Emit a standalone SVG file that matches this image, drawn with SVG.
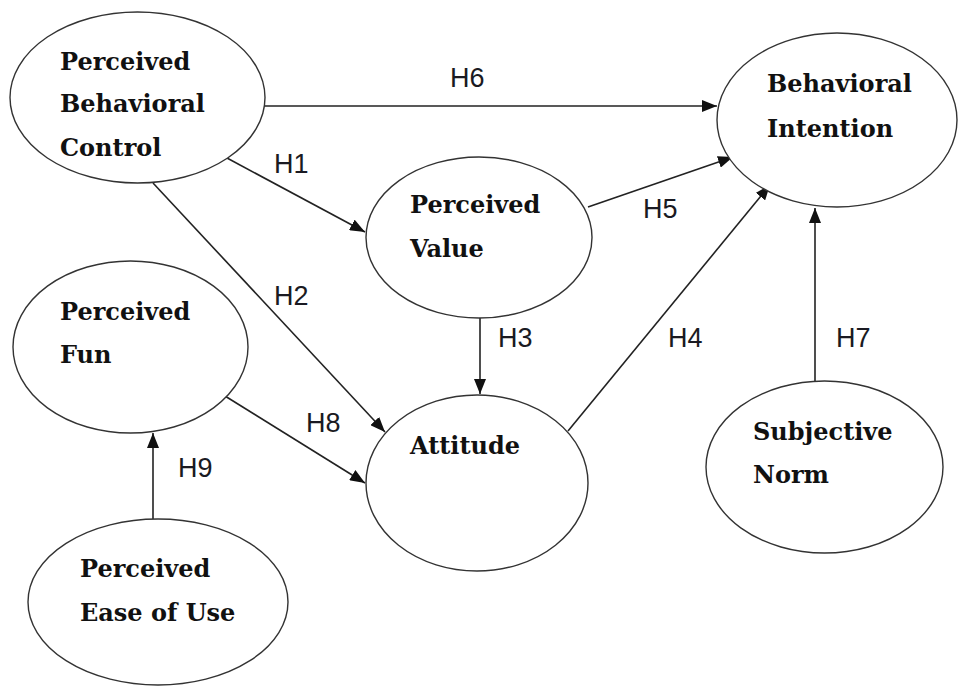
<svg xmlns="http://www.w3.org/2000/svg" width="960" height="687" viewBox="0 0 960 687">
<style>
.node ellipse{fill:#fff;stroke:#333;stroke-width:1.4}
.node text{font-family:"DejaVu Serif","Liberation Serif",serif;font-weight:bold;font-size:24px;fill:#111}
.edges line{stroke:#222;stroke-width:1.6;marker-end:url(#arr)}
.lbl{font-family:"Liberation Sans",Arial,sans-serif;font-size:27px;fill:#1a1a22}
</style>
<defs>
<marker id="arr" viewBox="0 0 15 12" refX="15" refY="6" markerWidth="15" markerHeight="12" markerUnits="userSpaceOnUse" orient="auto">
<path d="M0,0 L15,6 L0,12 z" fill="#111"/>
</marker>
</defs>
<rect width="960" height="687" fill="#fff"/>
<g class="edges">
<line x1="265" y1="106" x2="717" y2="106"/>
<line x1="227" y1="158" x2="365" y2="232"/>
<line x1="153" y1="183" x2="385" y2="432"/>
<line x1="480" y1="318" x2="480" y2="394"/>
<line x1="225" y1="396" x2="365" y2="483"/>
<line x1="568" y1="431" x2="770" y2="185"/>
<line x1="588" y1="207" x2="733" y2="157"/>
<line x1="815" y1="381" x2="815" y2="208"/>
<line x1="153" y1="519" x2="153" y2="433"/>
</g>
<g id="labels">
<text class="lbl" x="450" y="87">H6</text>
<text class="lbl" x="274" y="173">H1</text>
<text class="lbl" x="643" y="218">H5</text>
<text class="lbl" x="274" y="305">H2</text>
<text class="lbl" x="498" y="347">H3</text>
<text class="lbl" x="668" y="347">H4</text>
<text class="lbl" x="836" y="347">H7</text>
<text class="lbl" x="306" y="432">H8</text>
<text class="lbl" x="178" y="477">H9</text>
</g>
<g id="pbc" class="node">
<ellipse cx="137.5" cy="97.5" rx="127.5" ry="85.5"/>
<text x="60" y="70">Perceived</text>
<text x="60" y="112">Behavioral</text>
<text x="60" y="156">Control</text>
</g>
<g id="bi" class="node">
<ellipse cx="837" cy="120" rx="120" ry="87"/>
<text x="767" y="92">Behavioral</text>
<text x="767" y="137">Intention</text>
</g>
<g id="pv" class="node">
<ellipse cx="479" cy="237.5" rx="113" ry="80.5"/>
<text x="410" y="213">Perceived</text>
<text x="410" y="257">Value</text>
</g>
<g id="att" class="node">
<ellipse cx="477" cy="483" rx="111" ry="88"/>
<text x="410" y="454">Attitude</text>
</g>
<g id="pf" class="node">
<ellipse cx="130.5" cy="347" rx="117.5" ry="86"/>
<text x="60" y="320">Perceived</text>
<text x="60" y="363">Fun</text>
</g>
<g id="peu" class="node">
<ellipse cx="158" cy="602" rx="130" ry="83"/>
<text x="80" y="577">Perceived</text>
<text x="80" y="621">Ease of Use</text>
</g>
<g id="sn" class="node">
<ellipse cx="824.5" cy="467" rx="118.5" ry="86"/>
<text x="753" y="440">Subjective</text>
<text x="753" y="483">Norm</text>
</g>
</svg>
